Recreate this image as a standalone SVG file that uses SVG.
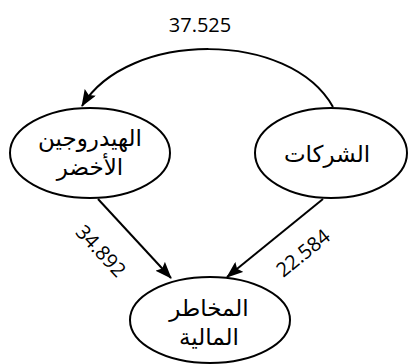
<svg xmlns="http://www.w3.org/2000/svg" width="411" height="364" viewBox="0 0 411 364">
  <style>
    .node { fill: #ffffff; stroke: #000000; stroke-width: 2; }
    .edge { fill: none; stroke: #000000; stroke-width: 2; }
    .ar { font-family: "DejaVu Sans", sans-serif; font-size: 23px; fill: #000000; text-anchor: middle; }
    .num { font-family: "Open Sans", "Noto Sans", sans-serif; font-size: 20px; fill: #000000; text-anchor: middle; }
  </style>
  <defs>
    <marker id="arrow" viewBox="0 0 17 13" refX="16" refY="6.5" markerWidth="17" markerHeight="13" markerUnits="userSpaceOnUse" orient="auto">
      <path d="M0,0 L17,6.5 L0,13 L3,6.5 Z" fill="#000000"/>
    </marker>
  </defs>

  <g id="edges">
    <path class="edge" d="M333,107 C290,30 128,30 82,106" marker-end="url(#arrow)"/>
    <path class="edge" d="M98,199 L171,278" marker-end="url(#arrow)"/>
    <path class="edge" d="M323,199 L227,277" marker-end="url(#arrow)"/>
    <text class="num" x="200" y="32">37.525</text>
    <text class="num" transform="translate(101,251) rotate(47)" y="7">34.892</text>
    <text class="num" transform="translate(303,253) rotate(-39)" y="7">22.584</text>
  </g>

  <g id="hydrogen">
    <ellipse class="node" cx="90" cy="153" rx="80" ry="45"/>
    <text class="ar"><tspan x="90" y="146">الهيدروجين</tspan><tspan x="90" y="175">الأخضر</tspan></text>
  </g>

  <g id="companies">
    <ellipse class="node" cx="331" cy="153" rx="76" ry="45"/>
    <text class="ar" x="327" y="162">الشركات</text>
  </g>

  <g id="risk">
    <ellipse class="node" cx="210" cy="320" rx="80" ry="43"/>
    <text class="ar"><tspan x="209" y="316">المخاطر</tspan><tspan x="209" y="345">المالية</tspan></text>
  </g>
</svg>
